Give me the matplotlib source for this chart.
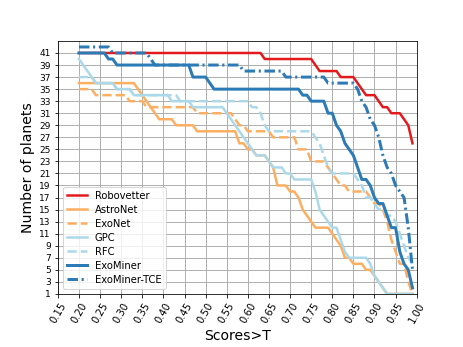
import numpy as np
import matplotlib
matplotlib.use("Agg")
import matplotlib.pyplot as plt

# score thresholds T (0.20 .. 0.99)
thresholds = np.round(np.arange(20, 100) / 100, 2)

robovetter = [41] * 40 + [
    41, 41, 41, 41, 40, 40, 40, 40, 40, 40,
    40, 40, 40, 40, 40, 40, 39, 38, 38, 38,
    38, 38, 37, 37, 37, 37, 36, 35, 34, 34,
    34, 33, 32, 32, 31, 31, 31, 30, 29, 26,
]
astronet = [
    36, 36, 36, 36, 36, 36, 36, 36, 36, 36,
    36, 36, 36, 36, 35, 34, 33, 32, 31, 30,
    30, 30, 30, 29, 29, 29, 29, 29, 28, 28,
    28, 28, 28, 28, 28, 28, 28, 28, 26, 26,
    25, 25, 24, 24, 24, 23, 22, 19, 19, 19,
    18, 18, 17, 15, 14, 13, 12, 12, 12, 12,
    11, 10, 9, 7, 7, 6, 6, 6, 5, 5,
    4, 3, 2, 1, 1, 1, 1, 1, 1, 1,
]
exonet = [
    35, 35, 35, 35, 34, 34, 34, 34, 34, 34,
    34, 34, 33, 33, 33, 33, 32, 32, 32, 32,
    32, 32, 32, 32, 32, 32, 32, 32, 31, 31,
    31, 31, 31, 31, 31, 31, 31, 30, 29, 29,
    28, 28, 28, 28, 28, 28, 27, 27, 27, 27,
    27, 27, 25, 25, 25, 23, 23, 23, 23, 22,
    21, 20, 19, 19, 18, 18, 18, 18, 18, 17,
    16, 16, 15, 13, 10, 8, 6, 6, 3, 1,
]
gpc = [
    40, 39, 38, 37, 36, 36, 36, 36, 36, 35,
    35, 35, 35, 34, 34, 34, 34, 34, 34, 34,
    34, 34, 33, 33, 33, 33, 33, 32, 32, 32,
    32, 32, 32, 32, 32, 31, 30, 29, 28, 27,
    26, 25, 24, 24, 24, 23, 22, 22, 22, 21,
    21, 20, 20, 20, 20, 20, 18, 15, 14, 13,
    12, 12, 10, 8, 7, 7, 7, 7, 7, 6,
    4, 3, 2, 1, 1, 1, 1, 1, 1, 1,
]
rfc = [
    37, 37, 37, 37, 36, 36, 36, 36, 36, 35,
    35, 35, 35, 34, 34, 34, 34, 34, 34, 34,
    34, 34, 34, 34, 33, 33, 33, 33, 33, 33,
    33, 33, 33, 33, 33, 33, 33, 33, 33, 33,
    33, 32, 32, 31, 29, 28, 28, 28, 28, 28,
    28, 28, 28, 28, 28, 28, 27, 26, 24, 22,
    21, 21, 21, 21, 21, 21, 20, 19, 17, 17,
    16, 15, 15, 14, 14, 13, 11, 9, 7, 6,
]
exominer = [
    41, 41, 41, 41, 41, 41, 41, 40, 40, 39,
    39, 39, 39, 39, 39, 39, 39, 39, 39, 39,
    39, 39, 39, 39, 39, 39, 39, 37, 37, 37,
    37, 36, 35, 35, 35, 35, 35, 35, 35, 35,
    35, 35, 35, 35, 35, 35, 35, 35, 35, 35,
    35, 35, 35, 34, 34, 33, 33, 33, 33, 31,
    31, 29, 28, 26, 25, 24, 22, 20, 20, 19,
    17, 16, 16, 14, 12, 12, 8, 6, 5, 2,
]
exominer_tce = [
    42, 42, 42, 42, 42, 42, 42, 42, 41, 41,
    41, 41, 41, 41, 41, 41, 41, 40, 39, 39,
    39, 39, 39, 39, 39, 39, 39, 39, 39, 39,
    39, 39, 39, 39, 39, 39, 39, 39, 39, 38,
    38, 38, 38, 38, 38, 38, 38, 38, 38, 37,
    37, 37, 37, 37, 37, 37, 37, 37, 37, 36,
    36, 36, 36, 36, 36, 36, 35, 33, 32, 30,
    29, 27, 24, 22, 21, 19, 18, 17, 12, 5,
]

dashdot = (0, (3.5, 1.2, 0.7, 1.2))
series = [
    ("Robovetter", robovetter, "#e31a1c", "-", 2.5),
    ("AstroNet", astronet, "#fdae61", "-", 2.5),
    ("ExoNet", exonet, "#fdae61", "--", 2.5),
    ("GPC", gpc, "#abd9e9", "-", 2.5),
    ("RFC", rfc, "#abd9e9", "--", 2.5),
    ("ExoMiner", exominer, "#2c7bb6", "-", 3),
    ("ExoMiner-TCE", exominer_tce, "#2c7bb6", dashdot, 3),
]

fig, ax = plt.subplots(figsize=(463 / 72, 347 / 72), dpi=72)
fig.subplots_adjust(left=0.125, right=0.9, bottom=0.153, top=0.882)

for name, vals, color, ls, lw in series:
    ax.plot(thresholds, vals, color=color, linestyle=ls, linewidth=lw, label=name)

xt = np.round(np.arange(15, 101, 5) / 100, 2)
ax.set_xticks(xt)
ax.set_xticklabels([f"{t:.2f}" for t in xt], rotation=60, fontsize=10)
ax.set_yticks(np.arange(1, 42, 2))
ax.tick_params(axis="y", labelsize=9)
ax.set_xlim(0.15, 1.0)
ax.set_ylim(1, 43)
ax.grid(True, color="#b0b0b0", linewidth=1)
ax.set_axisbelow(True)
ax.set_xlabel("Scores>T", fontsize=14)
ax.set_ylabel("Number of planets", fontsize=14)
ax.legend(loc="lower left", fontsize=10, labelspacing=0.4)

fig.savefig("out.png", dpi=72)
